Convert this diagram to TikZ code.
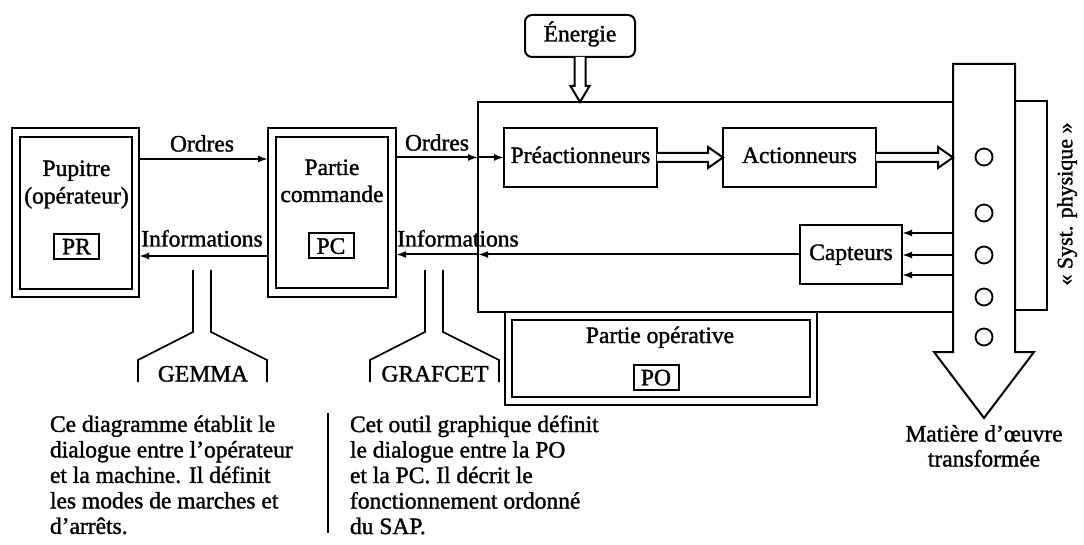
\documentclass[tikz,border=0pt]{standalone}
\usepackage{fontspec}
\setmainfont{Liberation Serif}[FakeBold=1.4]
\usetikzlibrary{arrows.meta,calc}
\newcommand{\rdbl}[2]{\draw[dbl] ($(#1)+(0,-4.5)$) -- ($(#2)+(-15,-4.5)$) -- ($(#2)+(-15,-10.5)$) -- (#2) -- ($(#2)+(-15,10.5)$) -- ($(#2)+(-15,4.5)$) -- ($(#1)+(0,4.5)$);}
\newcommand{\ddbl}[2]{\draw[dbl] ($(#1)+(-5.5,0)$) -- ($(#2)+(-5.5,-16)$) -- ($(#2)+(-9.5,-16)$) -- (#2) -- ($(#2)+(9.5,-16)$) -- ($(#2)+(5.5,-16)$) -- ($(#1)+(5.5,0)$);}
\begin{document}
\begin{tikzpicture}[x=1pt,y=-1pt,
 every node/.style={inner sep=0pt, outer sep=0pt, font=\fontsize{23.5}{25.5}\selectfont},
 bx/.style={draw, line width=2pt},
 tb/.style={text height=16pt, text depth=5pt},
 sb/.style={bx, minimum width=45pt, minimum height=25pt, text height=15.6pt, text depth=0pt},
 ln/.style={line width=2pt},
 thin ln/.style={line width=1.7pt},
 arr/.style={ln, -{Latex[length=10pt,width=7pt]}},
 dbl/.style={line width=2pt, fill=white, line join=miter},
]
\useasboundingbox (0,0) rectangle (1084,545);

% Pupitre
\node[bx, minimum width=127pt, minimum height=169pt] (prout) at (75.5,212.5) {};
\node[bx, minimum width=112pt, minimum height=152pt] (prin) at (76,213) {};
\node[anchor=base] (pupitre) at (76.5,176) {Pupitre};
\node[anchor=base] (operateur) at (76.5,203.5) {(opérateur)};
\node[sb] (pr) at (76.5,246.5) {PR};

% Partie commande
\node[bx, minimum width=128pt, minimum height=169pt] (pcout) at (332,212.5) {};
\node[bx, minimum width=112pt, minimum height=151pt] (pcin) at (332,212.5) {};
\node[anchor=base] (partie) at (332,175) {Partie};
\node[anchor=base] (commande) at (332,202) {commande};
\node[sb] (pc) at (331,246) {PC};

% Energie
\node[bx, rounded corners=7pt, minimum width=110pt, minimum height=42pt, tb] (en) at (580,36) {Énergie};

% PO area
\node[bx, minimum width=475pt, minimum height=210pt] (poarea) at (715.5,207) {};
\node[bx, tb, minimum width=153pt, minimum height=59pt] (pre) at (580.5,157.5) {Préactionneurs};
\node[bx, tb, minimum width=153pt, minimum height=59pt] (act) at (799.5,157.5) {Actionneurs};
\node[bx, tb, minimum width=102pt, minimum height=59pt] (cap) at (851,254.5) {Capteurs};

% Partie operative
\node[bx, minimum width=312pt, minimum height=93pt] (poout) at (661,358.5) {};
\node[bx, minimum width=298pt, minimum height=77pt] (poin) at (661,358.5) {};
\node[anchor=base] (potxt) at (660,343) {Partie opérative};
\node[sb] (po) at (656,377.5) {PO};

% big flow arrow
\draw[ln, line join=miter] (953,64) -- (1015,64) -- (1015,352) -- (1034,352) -- (984,418) -- (934,352) -- (953,352) -- cycle;
\foreach \y [count=\i] in {157,213,255,297,337}
  \node[draw, circle, line width=1.8pt, minimum size=17pt] (c\i) at (984,\y) {};
\node[bx, minimum width=32pt, minimum height=209pt] (syst) at (1031,205.5) {};
\node[rotate=90, font=\fontsize{22}{24}\selectfont] (systtxt) at (1067,204) {« Syst. physique »};
\node[anchor=base] (mat1) at (984,441.5) {Matière d’œuvre};
\node[anchor=base] (mat2) at (984,466.5) {transformée};

% connectors
\coordinate (o1) at (0,159);
\draw[arr] (prout.east |- o1) -- (pcout.west |- o1);
\node[anchor=base] (ordres1) at (202,151.5) {Ordres};
\coordinate (i1) at (0,256);
\draw[arr] (pcout.west |- i1) -- (prout.east |- i1);
\node[anchor=base] (info1) at (202,246.5) {Informations};

\draw[arr] (pcout.east |- pre.west) -- (poarea.west |- pre.west);
\draw[arr] (poarea.west |- pre.west) -- (pre.west);
\node[anchor=base] (ordres2) at (437,150.5) {Ordres};
\draw[arr] (cap.west) -- (poarea.west |- cap.west);
\draw[arr] (poarea.west |- cap.west) -- (pcout.east |- cap.west);
\node[anchor=base] (info2) at (458,246.5) {Informations};

\foreach \y/\n in {233/1,255/2,275/3}{
  \coordinate (s\n) at (953,\y);
  \draw[arr] (s\n) -- (cap.east |- s\n);
}

\rdbl{pre.east}{act.west}
\rdbl{act.east}{act.east -| poarea.east}
\ddbl{en.south}{en.south |- poarea.north}

% brackets
\draw[thin ln] (193,270) -- (193,332) -- (138,360) -- (138,382);
\draw[thin ln] (211,270) -- (211,332) -- (267,360) -- (267,382);
\node[anchor=base] (gemma) at (203,381.5) {GEMMA};
\draw[thin ln] (425,270) -- (425,332) -- (370,360) -- (370,382);
\draw[thin ln] (443,270) -- (443,332) -- (499,360) -- (499,382);
\node[anchor=base] (grafcet) at (435,381.5) {GRAFCET};

% texts
\node[anchor=north west, align=left] (txtgemma) at (50,415.5) {Ce diagramme établit le\\dialogue entre l’opérateur\\et la machine. Il définit\\les modes de marches et\\d’arrêts.};
\draw[thin ln] (328,413) -- (328,533);
\node[anchor=north west, align=left] (txtgraf) at (350,415.5) {Cet outil graphique définit\\le dialogue entre la PO\\et la PC. Il décrit le\\fonctionnement ordonné\\du SAP.};
\end{tikzpicture}
\end{document}
